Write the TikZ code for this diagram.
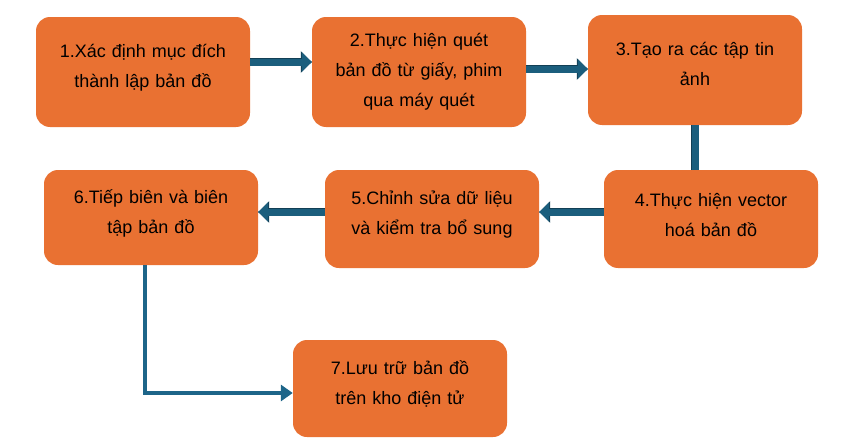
\documentclass[tikz,border=0pt]{standalone}
\usepackage{fontspec}
\setmainfont{Liberation Sans}
\usetikzlibrary{arrows.meta}
\definecolor{cam}{HTML}{E97132}
\definecolor{xanh}{HTML}{1B5E7D}
\definecolor{vien}{HTML}{123F55}
\definecolor{xanhnhat}{HTML}{1D6589}
\tikzset{
  buoc/.style={fill=cam, rounded corners=14pt, minimum width=214pt, inner sep=0pt,
    text width=205pt, align=center, font=\fontsize{18}{30}\selectfont},
  muiten/.style={draw=xanh, line width=7pt, -{Triangle[length=10pt,width=19pt]},
    preaction={draw=vien, line width=8.5pt, -{Triangle[length=11pt,width=21pt]}}},
  thanh/.style={draw=xanh, line width=7pt, preaction={draw=vien, line width=8.5pt}},
  duongnoi/.style={draw=xanhnhat, line width=4pt, -{Triangle[length=12pt,width=16pt]}}
}
\begin{document}
\begin{tikzpicture}[x=1pt, y=-1pt]
    \useasboundingbox (0,0) rectangle (852,447);
    %hang tren
    \node[buoc, minimum height=110pt] (b1) at (143,72) {1.Xác định mục đích\\thành lập bản đồ\vspace{8pt}};
    \node[buoc, minimum height=110pt] (b2) at (419,72) {2.Thực hiện quét\\bản đồ từ giấy, phim\\qua máy quét};
    \node[buoc, minimum height=110pt] (b3) at (695,70) {3.Tạo ra các tập tin\\ảnh\vspace{12pt}};
    %hang giua
    \node[buoc, minimum height=98pt] (b4) at (711,219) {4.Thực hiện vector\\hoá bản đồ\vspace{8pt}};
    \node[buoc, minimum height=98pt] (b5) at (432,219) {5.Chỉnh sửa dữ liệu\\và kiểm tra bổ sung\vspace{8pt}};
    \node[buoc, minimum height=95pt] (b6) at (151,217.5) {6.Tiếp biên và biên\\tập bản đồ\vspace{8pt}};
    %hang duoi
    \node[buoc, minimum height=97pt] (b7) at (400,388.5) {7.Lưu trữ bản đồ\\trên kho điện tử\vspace{10pt}};

    %mui ten
    \draw[muiten] ([yshift=10pt]b1.east) -- ([yshift=10pt]b2.west);
    \draw[muiten] ([yshift=3pt]b2.east) -- ([yshift=3pt]b2.east -| b3.west);
    \draw[thanh] (b3.south) -- (b3.south |- b4.north);
    \draw[muiten] ([yshift=7pt]b4.west) -- ([yshift=7pt]b4.west -| b5.east);
    \draw[muiten] ([yshift=7pt]b5.west) -- ([yshift=7pt]b5.west -| b6.east);
    \draw[duongnoi] ([xshift=-6pt]b6.south) |- ([yshift=-4.5pt]b7.west);
\end{tikzpicture}
\end{document}
